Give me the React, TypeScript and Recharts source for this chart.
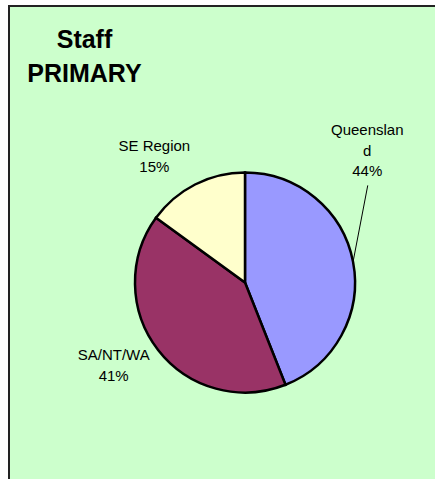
import React from "react";
import { PieChart, Pie, Cell } from "recharts";

const categories = ["Queensland", "SA/NT/WA", "SE Region"];
const values = [44, 41, 15];
const labelLines = [["Queenslan", "d"], ["SA/NT/WA"], ["SE Region"]];
const colors = ["#9999FF", "#993366", "#FFFFCC"];
const titleLines = ["Staff", "PRIMARY"];

// label placement relative to slice mid-angle (degrees) and outer radius (px)
const labelLayout = [
  { dAngle: 35.2, dRadius: 66, leader: true },
  { dAngle: -4.0, dRadius: 48, leader: false },
  { dAngle: 9.9, dRadius: 41, leader: false },
];

const data = categories.map((name, i) => ({ name, value: values[i] }));

const FONT = "'Liberation Sans', Arial, sans-serif";
const RAD = Math.PI / 180;
const LINE_H = 20.5;

const renderLabel = (props: any) => {
  const { cx, cy, midAngle, outerRadius, index, percent } = props;
  const lay = labelLayout[index];
  const a = (midAngle + lay.dAngle) * RAD;
  const r = outerRadius + lay.dRadius;
  const x = cx + r * Math.cos(a);
  const y = cy - r * Math.sin(a);
  const lines = [...labelLines[index], `${Math.round(percent * 100)}%`];
  const firstBaseline = y - ((lines.length - 1) * LINE_H) / 2;
  const lastBaseline = firstBaseline + (lines.length - 1) * LINE_H;
  const ex = cx + outerRadius * Math.cos(midAngle * RAD);
  const ey = cy - outerRadius * Math.sin(midAngle * RAD);
  return (
    <g key={`lbl-${index}`}>
      {lay.leader && (
        <line x1={x + 0.5} y1={lastBaseline + 9} x2={ex} y2={ey} stroke="#000" strokeWidth={1} />
      )}
      <text x={x} y={firstBaseline} textAnchor="middle" fontFamily={FONT} fontSize={15} fill="#000">
        {lines.map((l, i) => (
          <tspan key={i} x={x} y={firstBaseline + i * LINE_H}>
            {l}
          </tspan>
        ))}
      </text>
    </g>
  );
};

export default function App() {
  return (
    <div style={{ position: "absolute", left: 0, top: 0, width: 435, height: 479, overflow: "hidden", background: "#fff" }}>
      <div
        style={{
          position: "absolute",
          left: 8,
          top: 5,
          width: 440,
          height: 490,
          boxSizing: "border-box",
          borderLeft: "2px solid #222",
          borderTop: "2px solid #222",
          background: "#CCFFCC",
        }}
      />
      <div style={{ position: "absolute", left: 0, top: 0 }}>
        <PieChart width={435} height={479} margin={{ top: 0, right: 0, bottom: 0, left: 0 }}>
          <text x={84.5} y={48} textAnchor="middle" fontFamily={FONT} fontWeight="bold" fontSize={25} fill="#000">
            {titleLines[0]}
          </text>
          <text x={84.5} y={82} textAnchor="middle" fontFamily={FONT} fontWeight="bold" fontSize={25} fill="#000">
            {titleLines[1]}
          </text>
          <Pie
            data={data}
            dataKey="value"
            nameKey="name"
            cx={245}
            cy={282.5}
            outerRadius={110}
            startAngle={90}
            endAngle={-270}
            stroke="#000"
            strokeWidth={2.5}
            label={renderLabel}
            labelLine={false}
            isAnimationActive={false}
          >
            {data.map((d, i) => (
              <Cell key={d.name} fill={colors[i]} />
            ))}
          </Pie>
        </PieChart>
      </div>
    </div>
  );
}
